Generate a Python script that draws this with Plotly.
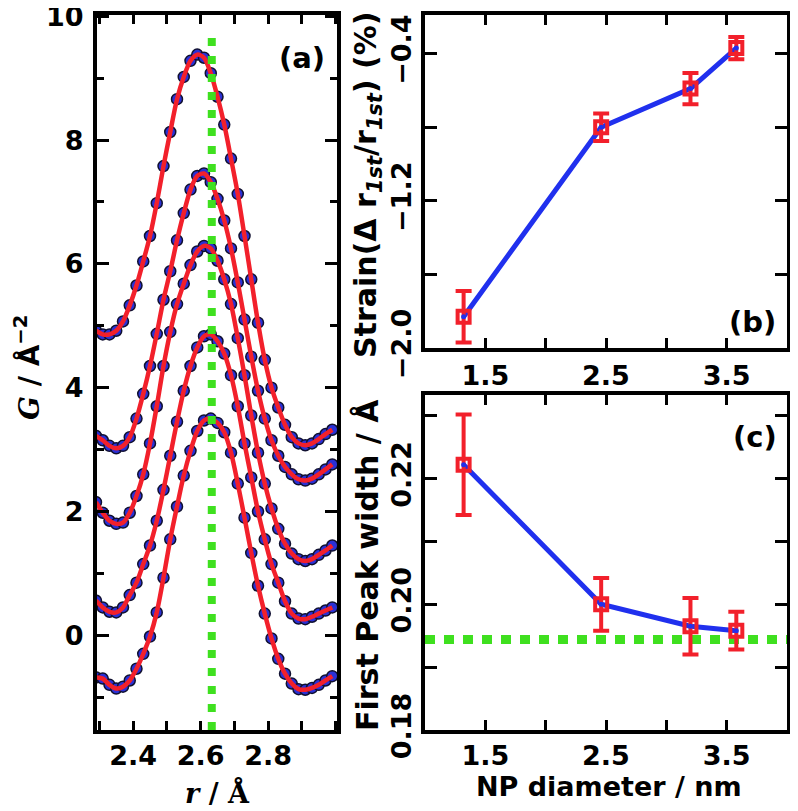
import plotly.graph_objects as go

# ---------------- data ----------------
r_values = [2.29, 2.31, 2.33, 2.35, 2.37, 2.39, 2.41, 2.43, 2.45, 2.47, 2.49, 2.51,
            2.53, 2.55, 2.57, 2.59, 2.61, 2.63, 2.65, 2.67, 2.69, 2.71, 2.73, 2.75,
            2.77, 2.79, 2.81, 2.83, 2.85, 2.87, 2.89, 2.91, 2.93, 2.95, 2.97, 2.99]

G_curve1 = [4.92, 4.86, 4.86, 4.92, 5.07, 5.33, 5.65, 6.04, 6.45, 6.98, 7.58, 8.13,
            8.66, 9.02, 9.28, 9.38, 9.33, 9.08, 8.70, 8.25, 7.70, 7.13, 6.45, 5.75,
            5.05, 4.45, 4.00, 3.68, 3.40, 3.20, 3.10, 3.07, 3.10, 3.17, 3.25, 3.32]
G_curve2 = [3.22, 3.15, 3.06, 3.02, 3.06, 3.20, 3.50, 3.90, 4.35, 4.87, 5.42, 5.88,
            6.38, 6.82, 7.20, 7.42, 7.46, 7.32, 7.05, 6.70, 6.25, 5.70, 5.10, 4.50,
            3.95, 3.50, 3.15, 2.90, 2.72, 2.60, 2.52, 2.50, 2.53, 2.60, 2.68, 2.76]
G_curve3 = [2.15, 1.98, 1.85, 1.80, 1.82, 1.98, 2.25, 2.60, 3.10, 3.70, 4.35, 4.90,
            5.35, 5.68, 5.98, 6.20, 6.29, 6.25, 6.05, 5.75, 5.35, 4.80, 4.20, 3.55,
            2.95, 2.45, 2.05, 1.72, 1.48, 1.32, 1.23, 1.20, 1.23, 1.30, 1.37, 1.45]
G_curve4 = [0.56, 0.45, 0.38, 0.37, 0.45, 0.65, 0.85, 1.15, 1.45, 1.85, 2.35, 2.90,
            3.45, 3.95, 4.35, 4.65, 4.83, 4.86, 4.75, 4.55, 4.20, 3.70, 3.10, 2.55,
            2.00, 1.55, 1.15, 0.85, 0.55, 0.35, 0.27, 0.26, 0.30, 0.35, 0.40, 0.45]
G_curve5 = [-0.68, -0.70, -0.80, -0.86, -0.83, -0.73, -0.54, -0.30, -0.02, 0.37, 0.93, 1.55,
            2.08, 2.58, 2.98, 3.30, 3.47, 3.50, 3.43, 3.28, 2.95, 2.45, 1.90, 1.33,
            0.80, 0.35, -0.05, -0.38, -0.62, -0.78, -0.87, -0.88, -0.85, -0.80, -0.73, -0.66]
G_curves = [G_curve1, G_curve2, G_curve3, G_curve4, G_curve5]
r_marker = 2.633

np_diameter = [1.32, 2.46, 3.20, 3.58]
strain = [-1.83, -0.80, -0.59, -0.37]
strain_err = [0.14, 0.075, 0.085, 0.06]

peak_width = [0.2222, 0.2000, 0.1965, 0.1958]
peak_width_err = [0.0080, 0.0042, 0.0045, 0.0030]
bulk_width = 0.1944

a_xticks = [2.4, 2.6, 2.8]
a_yticks = [0, 2, 4, 6, 8, 10]
b_xticks = [1.5, 2.5, 3.5]
b_yticks = [-2.0, -1.2, -0.4]
c_yticks = [0.18, 0.20, 0.22]

# ---------------- style ----------------
RED = "#f2202b"
BLUE_DOT = "#2a30d6"
BLUE_LINE = "#2030ee"
GREEN = "#3fe01f"
FONT = "DejaVu Sans"
# the page body adds an 8 px margin around the figure
OFF = 8
W, H = 798 - OFF, 811 - OFF

fig = go.Figure()

# panel (a)
for g in G_curves:
    fig.add_trace(go.Scatter(x=r_values, y=g, mode="markers", xaxis="x", yaxis="y",
                             marker=dict(size=11, color=BLUE_DOT, line=dict(width=1.5, color="#101030")),
                             showlegend=False))
for g in G_curves:
    fig.add_trace(go.Scatter(x=r_values, y=g, mode="lines", xaxis="x", yaxis="y",
                             line=dict(color=RED, width=4.5, shape="spline", smoothing=0.8),
                             showlegend=False))
fig.add_trace(go.Scatter(x=[r_marker, r_marker], y=[-1.53, 9.75], mode="lines", xaxis="x", yaxis="y",
                         line=dict(color=GREEN, width=8, dash="8px,10px"), showlegend=False))

# panel (b)
fig.add_trace(go.Scatter(x=np_diameter, y=strain, mode="lines", xaxis="x2", yaxis="y2",
                         line=dict(color=BLUE_LINE, width=5), showlegend=False))
fig.add_trace(go.Scatter(x=np_diameter, y=strain, mode="markers", xaxis="x2", yaxis="y2",
                         error_y=dict(type="data", array=strain_err, color=RED, thickness=4, width=8),
                         marker=dict(symbol="square-open", size=12, color=RED, line=dict(width=4, color=RED)),
                         showlegend=False))
fig.add_trace(go.Scatter(x=np_diameter, y=strain, mode="markers", xaxis="x2", yaxis="y2",
                         marker=dict(size=5, color=BLUE_LINE), showlegend=False))

# panel (c)
fig.add_trace(go.Scatter(x=[1.0, 4.0], y=[bulk_width, bulk_width], mode="lines", xaxis="x3", yaxis="y3",
                         line=dict(color=GREEN, width=9, dash="10px,9px"), showlegend=False))
fig.add_trace(go.Scatter(x=np_diameter, y=peak_width, mode="lines", xaxis="x3", yaxis="y3",
                         line=dict(color=BLUE_LINE, width=5), showlegend=False))
fig.add_trace(go.Scatter(x=np_diameter, y=peak_width, mode="markers", xaxis="x3", yaxis="y3",
                         error_y=dict(type="data", array=peak_width_err, color=RED, thickness=4, width=8),
                         marker=dict(symbol="square-open", size=12, color=RED, line=dict(width=4, color=RED)),
                         showlegend=False))
fig.add_trace(go.Scatter(x=np_diameter, y=peak_width, mode="markers", xaxis="x3", yaxis="y3",
                         marker=dict(size=5, color=BLUE_LINE), showlegend=False))


def px_x(a, b):
    return [(a - OFF) / W, (b - OFF) / W]


def px_y(top, bottom):
    return [(H - (bottom - OFF)) / H, (H - (top - OFF)) / H]


def ax(px):
    return (px - OFF) / W


def ay(py):
    return 1 - (py - OFF) / H


tickfont = dict(family=FONT, size=27, color="black", weight="bold")
common = dict(showline=True, linewidth=4, linecolor="black", mirror="allticks",
              ticks="inside", tickwidth=3, tickcolor="black", showgrid=False,
              zeroline=False, tickfont=tickfont, automargin=False, ticklabeloverflow="allow")

fig.update_layout(
    width=W, height=H, margin=dict(l=0, r=0, t=0, b=0, autoexpand=False),
    paper_bgcolor="white", plot_bgcolor="white",
    xaxis=dict(domain=px_x(97, 337), range=[2.293, 3.004], anchor="y",
               tickvals=a_xticks, ticktext=[f"{v:.1f}" for v in a_xticks], ticklen=9,
               ticklabelstandoff=-1,
               minor=dict(dtick=0.1, tick0=2.3, ticklen=9, tickwidth=3, tickcolor="black", ticks="inside"),
               **common),
    yaxis=dict(domain=px_y(15, 730), range=[-1.53, 10.02], anchor="x",
               tickvals=a_yticks, ticktext=[str(v) for v in a_yticks], ticklen=12,
               ticklabelstandoff=4,
               minor=dict(dtick=1, tick0=0, ticklen=7, tickwidth=3, tickcolor="black", ticks="inside"),
               **common),
    xaxis2=dict(domain=px_x(425, 787), range=[1.0, 4.0], anchor="y2",
                tickvals=b_xticks, ticktext=[f"{v:.1f}" for v in b_xticks], ticklen=10,
                ticklabelstandoff=1,
                minor=dict(dtick=0.5, tick0=1.0, ticklen=10, tickwidth=3, tickcolor="black", ticks="inside"),
                **common),
    yaxis2=dict(domain=px_y(15, 348), range=[-2.0, -0.19], anchor="x2",
                tickvals=b_yticks, ticktext=[f"{v:.1f}".replace("-", "\u2212") for v in b_yticks],
                ticklen=12, tickangle=-90, ticklabelstandoff=-1,
                minor=dict(dtick=0.4, tick0=-2.0, ticklen=12, tickwidth=3, tickcolor="black", ticks="inside"),
                **common),
    xaxis3=dict(domain=px_x(425, 787), range=[1.0, 4.0], anchor="y3",
                tickvals=b_xticks, ticktext=[f"{v:.1f}" for v in b_xticks], ticklen=10,
                ticklabelstandoff=-1,
                minor=dict(dtick=0.5, tick0=1.0, ticklen=10, tickwidth=3, tickcolor="black", ticks="inside"),
                **common),
    yaxis3=dict(domain=px_y(395, 730), range=[0.18, 0.2333], anchor="x3",
                tickvals=c_yticks, ticktext=[f"{v:.2f}" for v in c_yticks],
                ticklen=12, tickangle=-90, ticklabelstandoff=-1,
                minor=dict(dtick=0.01, tick0=0.18, ticklen=12, tickwidth=3, tickcolor="black", ticks="inside"),
                **common),
)

xtitle_font = dict(family=FONT, size=27, color="black", weight="bold")
ytitle_font = dict(family=FONT, size=30, color="black", weight="bold")
gtitle_font = dict(family=FONT, size=28, color="black", weight="bold")
panel_font = dict(family=FONT, size=29, color="black", weight="bold")
serif = "font-family:'DejaVu Serif';font-weight:bold"
annotations = [
    dict(x=ax(302), y=ay(58), text="(a)", font=panel_font),
    dict(x=ax(752), y=ay(322), text="(b)", font=panel_font),
    dict(x=ax(755), y=ay(437), text="(c)", font=panel_font),
    dict(x=ax(217), y=ay(792), text=f"<span style=\"{serif}\"><i>r</i> / Å</span>", font=xtitle_font),
    dict(x=ax(27), y=ay(368), text=f"<span style=\"{serif}\"><i>G</i></span> / Å<sup>−2</sup>",
         font=gtitle_font, textangle=-90),
    dict(x=ax(609), y=ay(786), text="NP diameter / nm", font=xtitle_font),
    dict(x=ax(367), y=ay(185),
         text="Strain(Δ r<sub><i>1st</i></sub>/r<sub><i>1st</i></sub>) (%)", font=ytitle_font, textangle=-90),
    dict(x=ax(367), y=ay(565), text="First Peak width / Å", font=ytitle_font, textangle=-90),
]
for a in annotations:
    a.update(xref="paper", yref="paper", showarrow=False, xanchor="center", yanchor="middle")
fig.update_layout(annotations=annotations)

fig.write_html("out.html")
